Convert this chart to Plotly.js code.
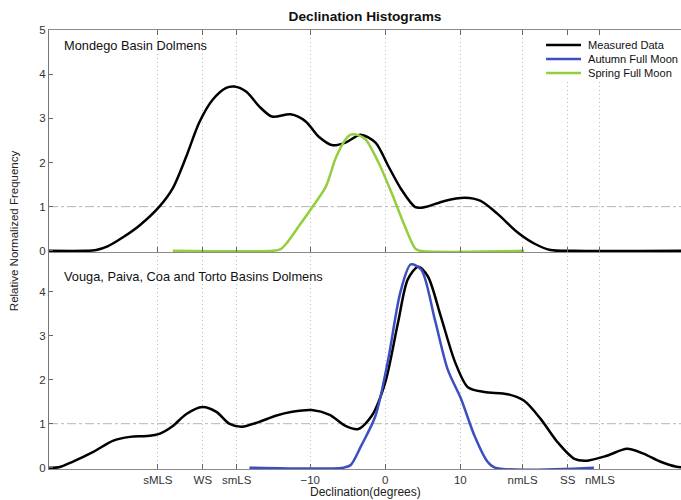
<!DOCTYPE html>
<html>
<head>
<meta charset="utf-8">
<script src="https://cdn.plot.ly/plotly-3.0.1.min.js"></script>
<style>html,body{margin:0;padding:0;background:#fff;}#chart{width:681px;height:500px;}</style>
</head>
<body>
<div id="chart"></div>
<script>
// Tick positions (declination, degrees) and labels
const tickVals = [-30.3, -24.3, -19.8, -10, 0, 10, 18.3, 24.3, 28.6];
const tickText = ['sMLS', 'WS', 'smLS', '\u221210', '0', '10', 'nmLS', 'SS', 'nMLS'];

// Top panel: Mondego Basin Dolmens – measured data
const mondegoX = [-44.8, -40, -38.5, -37, -35, -32.7, -30.1, -28.3, -26.5, -24.8, -23.0, -21.2, -20.1, -18.5, -16.8, -15.1, -12.6, -10.6, -8.9, -7.0, -5.3, -3.3, -1.3, 0.4, 2.1, 4.0, 5.3, 7.9, 10.6, 12.7, 15.0, 17.6, 19.9, 22.0, 25, 39.4];
const mondegoY = [0, 0, 0.02, 0.1, 0.3, 0.58, 1.0, 1.42, 2.14, 2.9, 3.42, 3.69, 3.72, 3.6, 3.27, 3.04, 3.09, 2.93, 2.59, 2.39, 2.45, 2.63, 2.45, 1.92, 1.40, 0.99, 0.99, 1.13, 1.2, 1.13, 0.83, 0.42, 0.16, 0.02, 0, 0];

// Top panel: Spring Full Moon
const springX = [-28.3, -15, -14.0, -13.2, -11.5, -9.8, -7.9, -6.6, -5.3, -4.6, -3.6, -2.6, -0.9, 0.8, 2.6, 4.0, 4.6, 18.5];
const springY = [0, 0, 0.03, 0.16, 0.56, 0.97, 1.46, 2.1, 2.52, 2.63, 2.62, 2.52, 2.0, 1.33, 0.56, 0.05, 0, 0];

// Bottom panel: Vouga, Paiva, Coa and Torto Basins Dolmens – measured data
const vougaX = [-44.8, -43.5, -41.6, -38.9, -36.3, -34.0, -31.8, -30.1, -28.3, -26.5, -24.4, -22.5, -20.8, -19.1, -16.8, -14.6, -12.4, -9.8, -7.4, -5.3, -3.6, -1.8, 0, 1.7, 3.0, 4.4, 5.7, 7.4, 9.3, 11.0, 13.2, 16.3, 18.5, 20.7, 22.9, 25.2, 26.9, 29.5, 32.2, 34.4, 36.6, 38.8, 39.4];
const vougaY = [0, 0.01, 0.14, 0.36, 0.61, 0.70, 0.72, 0.77, 0.95, 1.22, 1.38, 1.27, 1.0, 0.93, 1.04, 1.18, 1.27, 1.31, 1.2, 0.95, 0.88, 1.18, 1.94, 3.30, 4.28, 4.57, 4.34, 3.44, 2.40, 1.83, 1.72, 1.67, 1.52, 1.11, 0.59, 0.20, 0.16, 0.27, 0.43, 0.32, 0.14, 0.02, 0.01];

// Bottom panel: Autumn Full Moon
const autumnX = [-18.1, -5.6, -4.6, -3.2, -1.3, 0.4, 2.0, 3.4, 4.8, 6.6, 8.3, 10.1, 11.9, 13.6, 14.6, 27.8];
const autumnY = [0, 0, 0.06, 0.50, 1.18, 2.47, 3.98, 4.62, 4.50, 3.37, 2.24, 1.56, 0.72, 0.14, 0, 0];

const seriesNames = ['Measured Data', 'Autumn Full Moon', 'Spring Full Moon'];
const panelLabels = ['Mondego Basin Dolmens', 'Vouga, Paiva, Coa and Torto Basins Dolmens'];

const FONT = 'Liberation Sans, Arial, Helvetica, sans-serif';
const BLACK = '#000000', BLUE = '#3b4fc1', GREEN = '#93cf3c';
const seriesColors = [BLACK, BLUE, GREEN];

const traces = [
  {x: mondegoX, y: mondegoY, xaxis: 'x2', yaxis: 'y2', type: 'scatter', mode: 'lines',
   line: {color: BLACK, width: 2.5, shape: 'spline', smoothing: 0.8}, name: seriesNames[0]},
  {x: vougaX, y: vougaY, xaxis: 'x', yaxis: 'y', type: 'scatter', mode: 'lines',
   line: {color: BLACK, width: 2.5, shape: 'spline', smoothing: 0.8}, name: seriesNames[0]},
  {x: autumnX, y: autumnY, xaxis: 'x', yaxis: 'y', type: 'scatter', mode: 'lines',
   line: {color: BLUE, width: 2.5, shape: 'spline', smoothing: 0.8}, name: seriesNames[1]},
  {x: springX, y: springY, xaxis: 'x2', yaxis: 'y2', type: 'scatter', mode: 'lines',
   line: {color: GREEN, width: 2.5, shape: 'spline', smoothing: 0.8}, name: seriesNames[2]}
];

const split = 0.494;
const xCommon = {
  range: [-44.8, 39.4], tickmode: 'array', tickvals: tickVals, ticktext: tickText,
  ticks: 'inside', ticklen: 5, tickcolor: '#666', tickwidth: 1,
  showline: true, linecolor: '#8a8a8a', linewidth: 1,
  showgrid: true, gridcolor: '#bdbdbd', griddash: '1px,3px', gridwidth: 1,
  zeroline: false, tickfont: {family: FONT, size: 11.5, color: '#333'}, fixedrange: true
};
const yCommon = {
  ticks: 'inside', ticklen: 4, tickcolor: '#666', showline: true, linecolor: '#777', linewidth: 1,
  showgrid: false, zeroline: false, tickfont: {family: FONT, size: 11.5, color: '#333'}, fixedrange: true
};

// Legend built from the series names (rows stacked tightly as in the reference)
const legX0 = 0.7865, legX1 = 0.8418, legTextX = 0.8497;
const legRows = [0.9658, 0.9339, 0.9021];
const legendShapes = [{type: 'rect', xref: 'paper', yref: 'paper', x0: 0.774, x1: 1.0, y0: 0.8815, y1: 0.9863,
  fillcolor: '#ffffff', line: {width: 0}, layer: 'above'}];
const legendAnn = [];
seriesNames.forEach((nm, i) => {
  legendShapes.push({type: 'line', xref: 'paper', yref: 'paper', x0: legX0, x1: legX1, y0: legRows[i], y1: legRows[i],
    line: {color: seriesColors[i], width: 2.5}, layer: 'above'});
  legendAnn.push({text: nm, xref: 'paper', yref: 'paper', x: legTextX, y: legRows[i], xanchor: 'left', yanchor: 'middle',
    showarrow: false, font: {family: FONT, size: 11.1, color: '#111'}});
});

const layout = {
  width: 681, height: 500,
  margin: {l: 49, r: 0, t: 30, b: 31, pad: 0},
  paper_bgcolor: '#ffffff', plot_bgcolor: '#ffffff',
  font: {family: FONT, size: 11, color: '#222'},
  title: {text: '<b>Declination Histograms</b>', font: {family: FONT, size: 13.7, color: '#111'},
          xref: 'paper', x: 0.5, xanchor: 'center', y: 0.968, yanchor: 'middle'},
  xaxis: Object.assign({}, xCommon, {anchor: 'y', domain: [0, 1]}),
  xaxis2: Object.assign({}, xCommon, {anchor: 'y2', domain: [0, 1], showticklabels: false, mirror: 'ticks'}),
  yaxis: Object.assign({}, yCommon, {anchor: 'x', domain: [0, split], range: [-0.03, 4.9], tickvals: [0, 1, 2, 3, 4]}),
  yaxis2: Object.assign({}, yCommon, {anchor: 'x2', domain: [split, 1], range: [-0.03, 5], tickvals: [0, 1, 2, 3, 4, 5]}),
  showlegend: false,
  shapes: [
    {type: 'line', xref: 'paper', x0: 0, x1: 1, yref: 'y2', y0: 1, y1: 1, layer: 'below',
     line: {color: '#b5b5b5', width: 1, dash: 'dashdot'}},
    {type: 'line', xref: 'paper', x0: 0, x1: 1, yref: 'y', y0: 1, y1: 1, layer: 'below',
     line: {color: '#b5b5b5', width: 1, dash: 'dashdot'}}
  ].concat(legendShapes),
  annotations: [
    {text: panelLabels[0], xref: 'paper', yref: 'paper', x: 0.0206, y: 0.9636, xanchor: 'left', yanchor: 'middle',
     showarrow: false, font: {family: FONT, size: 12.8, color: '#111'}},
    {text: panelLabels[1], xref: 'paper', yref: 'paper', x: 0.0206, y: 0.4396, xanchor: 'left', yanchor: 'middle',
     showarrow: false, font: {family: FONT, size: 12.8, color: '#111'}},
    {text: 'Declination(degrees)', xref: 'paper', yref: 'paper', x: 0.5, y: -0.052, xanchor: 'center', yanchor: 'middle',
     showarrow: false, font: {family: FONT, size: 12, color: '#222'}},
    {text: 'Relative Normalized Frequency', xref: 'paper', yref: 'paper', x: -0.0554, y: 0.544, xanchor: 'center', yanchor: 'middle',
     textangle: -90, showarrow: false, font: {family: FONT, size: 11.5, color: '#222'}}
  ].concat(legendAnn)
};

Plotly.newPlot('chart', traces, layout, {displayModeBar: false, staticPlot: true});
</script>
</body>
</html>
